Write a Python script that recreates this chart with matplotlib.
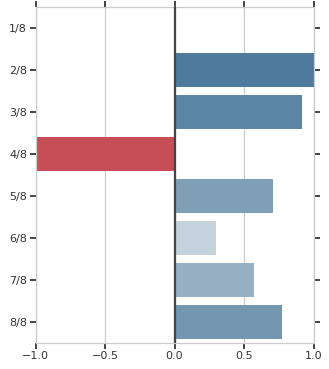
import matplotlib
matplotlib.use('Agg')
import matplotlib.pyplot as plt
from matplotlib.colors import LinearSegmentedColormap, Normalize

categories = ['1/8', '2/8', '3/8', '4/8', '5/8', '6/8', '7/8', '8/8']
values     = [0.0, 1.0, 0.92, -1.0, 0.71, 0.30, 0.57, 0.77]

cmap = LinearSegmentedColormap.from_list('rwb', ['#c74e57', '#f7f7f7', '#4e7b9d'])
norm = Normalize(-1, 1)

fig = plt.figure(figsize = (3.29, 3.69), dpi = 100)
ax  = fig.add_axes([0.108, 0.071, 0.845, 0.910])

ypos = list(range(len(categories)))
ax.barh(ypos, values, height = 0.8, color = [cmap(norm(v)) for v in values], zorder = 2)
ax.axvline(0, color = '#444444', lw = 1.6, zorder = 3)

ax.set_xlim(-1, 1)
ax.set_ylim(len(categories) - 0.5, -0.5)
ax.set_yticks(ypos)
ax.set_yticklabels(categories)
ax.set_xticks([-1, -0.5, 0, 0.5, 1])

ax.grid(axis = 'x', color = '#cccccc', lw = 0.9, zorder = 0)
ax.set_axisbelow(True)

for s in ax.spines.values():
    s.set_color('#cccccc')
    s.set_linewidth(0.9)

ax.tick_params(axis = 'both', which = 'both', direction = 'out', length = 4,
               width = 1.2, color = '#222222', labelsize = 8, labelcolor = '#333333',
               top = True, right = True, pad = 2)

fig.savefig('out.png', dpi = 100)
